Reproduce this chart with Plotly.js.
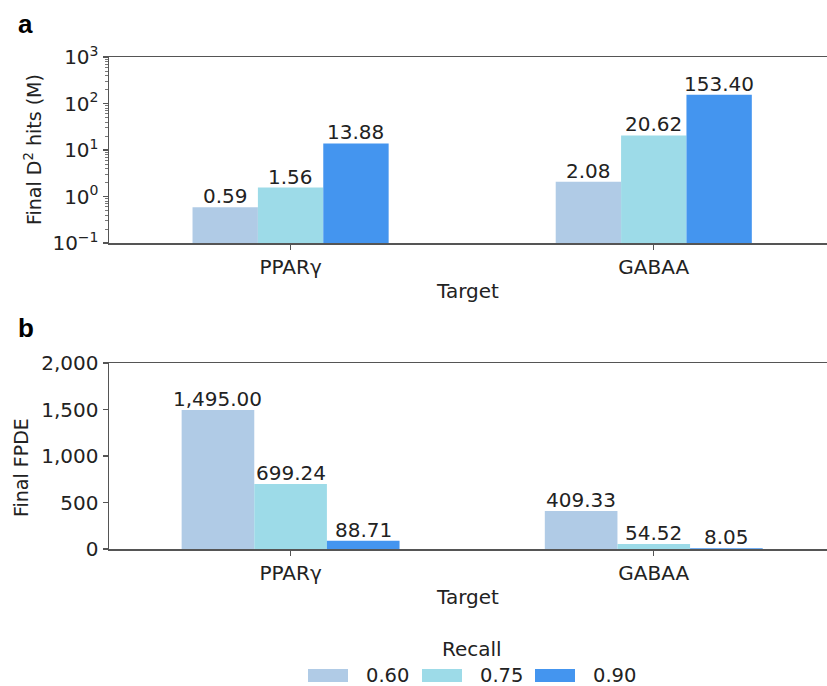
<!DOCTYPE html>
<html><head><meta charset="utf-8">
<script src="https://cdn.plot.ly/plotly-3.0.1.min.js"></script>
<style>body{margin:0;background:#fff}</style></head>
<body><div id="chart" style="width:827px;height:686px"></div>
<script>
// ---- data ----
const targets = ['PPARγ', 'GABAA'];
const recallLabels = ['0.60', '0.75', '0.90'];
const hits060 = [0.59, 2.08];
const hits075 = [1.56, 20.62];
const hits090 = [13.88, 153.40];
const fpde060 = [1495.00, 409.33];
const fpde075 = [699.24, 54.52];
const fpde090 = [88.71, 8.05];
const logTickVals = [0.1, 1, 10, 100, 1000];
const logTickText = ['10<sup>−1</sup>', '10<sup>0</sup>', '10<sup>1</sup>', '10<sup>2</sup>', '10<sup>3</sup>'];
const linTickVals = [0, 500, 1000, 1500, 2000];

// ---- style ----
const colors = ['#b0cbe6', '#9ddbe8', '#4495ef'];
const FONT = 'DejaVu Sans, sans-serif';
const TXT = '#222';
const AX = '#555';
const W = 827, H = 686;
const px = v => v / W;
const py = v => 1 - v / H;
const X0 = 109;                      // left edge of the plot area (px)
const xRange = [-0.5, 1.477];
const pxPerCat = (W - X0) / (xRange[1] - xRange[0]);

const hitsSeries = [hits060, hits075, hits090];
const fpdeSeries = [fpde060, fpde075, fpde090];
const topW = 0.18, botW = 0.2;

const traces = [];
const annotations = [];
const fmt2 = v => v.toLocaleString('en-US', {minimumFractionDigits: 2, maximumFractionDigits: 2});

function addPanel(series, bw, xa, ya, isLog) {
  series.forEach((s, i) => {
    const off = -1.5 * bw + i * bw;
    traces.push({
      type: 'bar', x: targets, y: s, xaxis: xa, yaxis: ya,
      name: recallLabels[i], showlegend: false,
      width: bw, offset: off,
      marker: {color: colors[i], line: {width: 0}},
      hoverinfo: 'skip'
    });
    s.forEach((v, k) => {
      annotations.push({
        text: fmt2(v), x: targets[k], y: isLog ? Math.log10(v) : v,
        xref: xa, yref: ya, xanchor: 'center', yanchor: 'bottom',
        xshift: (off + bw / 2) * pxPerCat, yshift: -3, showarrow: false,
        font: {family: FONT, size: 20, color: TXT}
      });
    });
  });
}
addPanel(hitsSeries, topW, 'x', 'y', true);
addPanel(fpdeSeries, botW, 'x2', 'y2', false);

const xCommon = {
  type: 'category', range: xRange, domain: [px(X0), 1],
  showline: true, linecolor: AX, linewidth: 1.5, mirror: true,
  ticks: 'outside', ticklen: 5, tickcolor: AX, tickwidth: 1.2,
  showgrid: false, zeroline: false, automargin: false,
  tickfont: {family: FONT, size: 20, color: TXT},
  title: {text: 'Target', font: {family: FONT, size: 20, color: TXT}, standoff: 6}
};

function note(text, x, y, size, extra) {
  return Object.assign({text: text, x: px(x), y: py(y), xref: 'paper', yref: 'paper',
    xanchor: 'center', yanchor: 'middle', showarrow: false,
    font: {family: FONT, size: size, color: TXT}}, extra || {});
}

annotations.push(
  note('<b>a</b>', 25, 24, 26, {font: {family: 'Liberation Sans, Arial, sans-serif', size: 26, color: '#000'}}),
  note('<b>b</b>', 26, 328, 26, {font: {family: 'Liberation Sans, Arial, sans-serif', size: 26, color: '#000'}}),
  note('Final D<sup>2</sup> hits (M)', 33, 150, 19, {textangle: -90}),
  note('Final FPDE', 21, 468, 19, {textangle: -90}),
  note('Recall', 472, 649, 20)
);
const shapes = [];
const legPatchX = [308, 422, 535];
recallLabels.forEach((lab, i) => {
  shapes.push({type: 'rect', xref: 'paper', yref: 'paper',
    x0: px(legPatchX[i]), x1: px(legPatchX[i] + 40), y0: py(682), y1: py(669),
    fillcolor: colors[i], line: {width: 0}});
  annotations.push(note(lab, legPatchX[i] + 57, 675, 19.5, {xanchor: 'left', borderpad: 0}));
});

const layout = {
  width: W, height: H,
  margin: {l: 0, r: 0, t: 0, b: 0},
  paper_bgcolor: '#fff', plot_bgcolor: '#fff',
  barmode: 'overlay',
  showlegend: false,
  font: {family: FONT, color: TXT},
  xaxis: Object.assign({}, xCommon, {anchor: 'y'}),
  xaxis2: Object.assign({}, xCommon, {anchor: 'y2'}),
  yaxis: {
    type: 'log', range: [-1, 3], domain: [py(243), py(57)], anchor: 'x',
    tickvals: logTickVals, ticktext: logTickText,
    showline: true, linecolor: AX, linewidth: 1.5,
    ticks: 'outside', ticklen: 5, tickcolor: AX, tickwidth: 1.2,
    minor: {ticks: 'outside', ticklen: 2.5, tickcolor: AX, tickwidth: 0.8, dtick: 'D1', showgrid: false},
    showgrid: false, zeroline: false, automargin: false,
    tickfont: {family: FONT, size: 20, color: TXT}
  },
  yaxis2: {
    type: 'linear', range: [0, 2000], domain: [py(549), py(363)], anchor: 'x2',
    tickvals: linTickVals, tickformat: ',d',
    showline: true, linecolor: AX, linewidth: 1.5,
    ticks: 'outside', ticklen: 5, tickcolor: AX, tickwidth: 1.2,
    showgrid: false, zeroline: false, automargin: false,
    tickfont: {family: FONT, size: 20, color: TXT}
  },
  annotations: annotations,
  shapes: shapes
};

Plotly.newPlot('chart', traces, layout, {staticPlot: true, displayModeBar: false});
</script>
</body></html>
